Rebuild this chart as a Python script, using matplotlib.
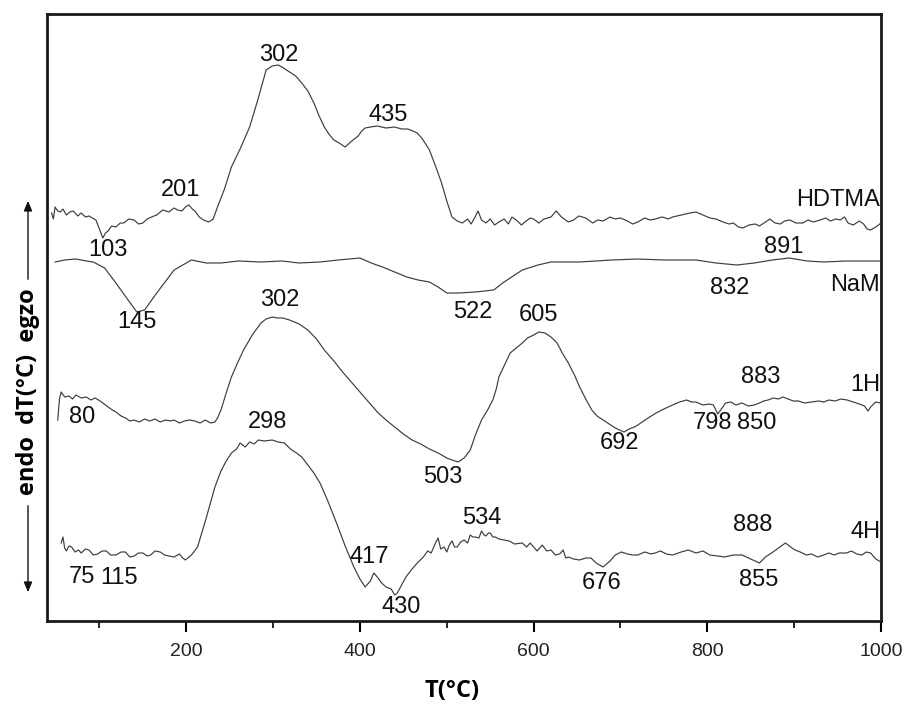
import matplotlib
matplotlib.use("Agg")
import matplotlib.pyplot as plt
from matplotlib.patches import FancyArrowPatch
from matplotlib.ticker import MultipleLocator

# ---------------- data (temperature in °C, dT in arbitrary units) ----------------
hdtma_T = [45, 47, 49, 52, 55, 58, 62, 66, 70, 75, 79, 84, 88, 92, 96, 100, 104, 107, 110, 114,
           119, 124, 128, 134, 140, 145, 150, 155, 160, 166, 173, 180, 186, 190, 195, 199, 203,
           207, 210, 215, 220, 226, 231, 236, 244, 252, 262, 273, 282, 292, 299, 306, 312, 319,
           326, 333, 340, 347, 353, 359, 365, 370, 376, 383, 388, 392, 398, 402, 406, 412, 420,
           430, 440, 448, 455, 461, 466, 472, 480, 487, 494, 500, 506, 512, 518, 524, 528, 532,
           536, 540, 545, 550, 555, 560, 566, 571, 575, 580, 586, 590, 596, 600, 606, 612, 620,
           626, 632, 640, 646, 652, 660, 668, 674, 680, 688, 694, 700, 708, 714, 720, 728, 734,
           740, 748, 755, 760, 770, 780, 787, 795, 803, 810, 818, 825, 830, 836, 841, 848, 855,
           860, 867, 872, 878, 884, 889, 895, 902, 910, 916, 922, 930, 936, 942, 948, 953, 958,
           962, 968, 975, 980, 984, 988, 994, 1000]
hdtma_y = [408, 402, 414, 410, 409, 412, 406, 409, 410, 405, 408, 404, 405, 403, 401, 392, 383, 388,
           390, 395, 394, 398, 398, 402, 401, 397, 398, 402, 404, 406, 411, 409, 413, 411, 410,
           414, 416, 412, 410, 404, 401, 399, 402, 414, 432, 454, 472, 494, 520, 551, 555, 556,
           553, 549, 545, 538, 530, 518, 505, 494, 486, 481, 478, 474, 478, 481, 485, 490, 493,
           494, 495, 493, 494, 492, 492, 490, 488, 482, 471, 455, 438, 420, 404, 400, 398, 402,
           397, 403, 410, 401, 398, 402, 396, 399, 402, 397, 404, 401, 396, 399, 403, 402, 398,
           402, 404, 410, 404, 399, 401, 405, 403, 398, 401, 400, 404, 402, 403, 400, 397, 399,
           403, 401, 402, 404, 402, 404, 406, 408, 409, 406, 403, 402, 399, 397, 398, 394, 393,
           396, 397, 395, 399, 402, 398, 397, 400, 401, 398, 398, 401, 399, 401, 403, 400, 402,
           401, 404, 398, 396, 400, 397, 392, 391, 394, 398]

nam_T = [49, 60, 73, 85, 93, 106, 119, 133, 143, 152, 166, 186, 206, 223, 240, 260, 286, 310,
         330, 354, 375, 400, 413, 426, 440, 454, 467, 480, 490, 500, 514, 533, 554, 566, 587,
         605, 620, 653, 690, 720, 750, 787, 810, 834, 854, 875, 894, 915, 934, 960, 1000]
nam_y = [359, 361, 362, 360, 359, 353, 338, 321, 309, 311, 328, 351, 361, 358, 358, 360, 359, 360,
         358, 359, 361, 363, 358, 354, 349, 344, 341, 339, 334, 328, 328, 329, 331, 339, 351,
         356, 359, 359, 361, 362, 361, 361, 358, 356, 358, 361, 363, 360, 359, 360, 360]

h1_T = [52, 54, 56, 60, 65, 69, 73, 79, 85, 90, 95, 99, 104, 110, 115, 119, 125, 130, 135, 140,
        146, 152, 158, 164, 170, 176, 182, 186, 192, 198, 204, 210, 216, 222, 228, 233, 236,
        240, 246, 252, 259, 266, 276, 286, 292, 299, 305, 311, 319, 330, 340, 350, 359, 370,
        380, 390, 400, 410, 420, 430, 440, 450, 460, 470, 480, 490, 500, 506, 513, 520, 527,
        533, 540, 547, 553, 557, 560, 567, 573, 580, 587, 593, 600, 606, 613, 620, 627, 633,
        640, 647, 653, 660, 667, 673, 680, 687, 694, 699, 704, 710, 716, 720, 730, 741, 750,
        760, 768, 776, 782, 787, 795, 802, 807, 812, 817, 821, 827, 833, 840, 847, 854, 860,
        865, 870, 876, 882, 887, 893, 899, 905, 912, 920, 928, 934, 940, 947, 954, 961, 968,
        975, 981, 985, 988, 994, 1000]
h1_y = [201, 222, 229, 224, 225, 222, 226, 223, 224, 221, 223, 221, 218, 214, 211, 209, 205, 203,
        200, 201, 199, 202, 200, 202, 199, 201, 200, 201, 198, 200, 201, 200, 198, 201, 198,
        199, 203, 211, 228, 244, 258, 271, 286, 298, 302, 304, 303, 303, 301, 297, 291, 282,
        271, 260, 249, 239, 229, 219, 209, 201, 194, 187, 181, 177, 172, 168, 163, 161, 159,
        163, 171, 186, 201, 211, 221, 232, 244, 257, 268, 273, 278, 283, 286, 289, 288, 284,
        278, 268, 258, 246, 234, 222, 211, 205, 201, 197, 193, 191, 189, 192, 194, 196, 202,
        208, 212, 216, 219, 221, 219, 219, 216, 217, 216, 207, 213, 218, 219, 216, 218, 215,
        216, 218, 220, 221, 223, 222, 224, 222, 220, 220, 218, 219, 220, 219, 221, 220, 222,
        221, 219, 217, 215, 210, 214, 219, 218]

h4_T = [56, 58, 60, 62, 65, 68, 72, 76, 79, 84, 88, 93, 98, 103, 108, 113, 119, 125, 130, 135,
        140, 145, 150, 155, 159, 164, 170, 175, 180, 186, 192, 196, 199, 206, 213, 222, 233,
        240, 246, 252, 258, 262, 268, 273, 278, 283, 290, 299, 306, 313, 320, 327, 333, 340,
        347, 354, 363, 373, 383, 393, 400, 406, 412, 416, 420, 425, 430, 436, 440, 443, 448,
        453, 460, 466, 473, 478, 482, 487, 490, 493, 497, 500, 503, 506, 509, 512, 516, 520,
        524, 527, 530, 533, 537, 540, 543, 545, 548, 550, 553, 556, 560, 566, 572, 578, 587,
        592, 596, 600, 604, 610, 615, 620, 625, 630, 634, 637, 640, 646, 653, 660, 666, 672,
        680, 688, 694, 701, 708, 714, 720, 728, 735, 740, 746, 753, 760, 770, 778, 787, 795,
        803, 812, 820, 830, 840, 850, 860, 867, 874, 882, 890, 896, 901, 907, 914, 920, 927,
        934, 940, 946, 952, 960, 966, 972, 978, 983, 988, 994, 1000]
h4_y = [78, 84, 73, 70, 75, 74, 69, 71, 68, 72, 71, 66, 67, 70, 70, 66, 66, 69, 69, 64,
        65, 68, 68, 65, 66, 70, 69, 66, 65, 64, 67, 63, 61, 66, 74, 100, 134,
        150, 160, 168, 172, 178, 174, 179, 177, 181, 180, 181, 179, 178, 172, 168, 164, 156,
        148, 138, 120, 98, 75, 54, 42, 34, 40, 48, 44, 38, 34, 32, 26, 28, 36,
        44, 52, 58, 64, 70, 68, 78, 83, 72, 74, 69, 76, 80, 74, 74, 79, 81,
        78, 86, 84, 84, 83, 90, 86, 85, 88, 88, 84, 84, 82, 81, 80, 77, 78,
        74, 78, 74, 70, 76, 70, 71, 66, 67, 71, 63, 64, 62, 61, 63, 63, 58,
        54, 60, 66, 69, 67, 66, 66, 69, 67, 68, 70, 67, 66, 69, 71, 68, 70,
        66, 65, 64, 66, 66, 62, 58, 64, 68, 73, 78, 74, 71, 69, 66, 67, 64,
        66, 68, 66, 68, 68, 70, 67, 66, 69, 68, 62, 59]

series_names = ["HDTMA", "NaM", "1H", "4H"]

# peak annotations: (text, T, y)
peak_labels = [
    ("302", 306, 566), ("435", 433, 506), ("201", 193, 431), ("103", 110, 371),
    ("891", 888, 374), ("145", 143, 299), ("522", 530, 309), ("832", 826, 333),
    ("302", 308, 321), ("605", 606, 306), ("883", 861, 244), ("80", 80, 204),
    ("503", 495, 144), ("692", 699, 178), ("798", 806, 198), ("850", 857, 198),
    ("298", 294, 199), ("534", 540, 103), ("888", 852, 96), ("417", 411, 64),
    ("75", 80, 44), ("115", 123, 43), ("676", 678, 38), ("855", 859, 41),
    ("430", 447, 14),
]
# series name labels: (text, y)
name_labels = [("HDTMA", 421), ("NaM", 336), ("1H", 236), ("4H", 89)]

# ---------------- figure ----------------
fig = plt.figure(figsize=(9.06, 7.09), dpi=100)
ax = fig.add_axes([47.3 / 906, 88 / 709, (881 - 47.3) / 906, (621 - 14) / 709])

line_kw = dict(color="#3c3c3c", lw=0.85)
ax.plot(hdtma_T, hdtma_y, **line_kw)
ax.plot(nam_T, nam_y, **line_kw)
ax.plot(h1_T, h1_y, **line_kw)
ax.plot(h4_T, h4_y, **line_kw)

ax.set_xlim(40, 1000)
ax.set_ylim(0, 607)
ax.set_yticks([])
ax.xaxis.set_major_locator(MultipleLocator(200))
ax.xaxis.set_minor_locator(MultipleLocator(100))
ax.tick_params(axis="x", which="major", direction="out", length=8, width=1.5,
               labelsize=14, pad=8, top=False, labelcolor="#222222")
ax.tick_params(axis="x", which="minor", direction="out", length=5, width=1.2, top=False)
for lab in ax.get_xticklabels():
    lab.set_family(["Liberation Sans", "DejaVu Sans"])
for s in ax.spines.values():
    s.set_linewidth(2.0)
    s.set_color("#1a1a1a")

lab_font = dict(family=["Liberation Sans", "DejaVu Sans"], fontsize=17, color="#111111",
                ha="center", va="center")
for txt, t, y in peak_labels:
    ax.text(t, y, txt, **lab_font)
for txt, y in name_labels:
    ax.text(999, y, txt, family=["Liberation Sans", "DejaVu Sans"], fontsize=17,
            color="#111111", ha="right", va="center")

# axis labels
fig.text(452 / 906, 1 - 691 / 709, "T(°C)", ha="center", va="center",
         fontsize=17, fontweight="bold", family=["Open Sans", "DejaVu Sans"])
fig.text(28 / 906, 1 - 392 / 709, "endo  dT(°C)  egzo", rotation=90, ha="center",
         va="center", fontsize=17, fontweight="bold", family=["Open Sans", "DejaVu Sans"])
fig.add_artist(FancyArrowPatch(
    (28 / 906, 1 - 282 / 709), (28 / 906, 1 - 198 / 709), transform=fig.transFigure,
    arrowstyle="-|>,head_length=6,head_width=2.5", lw=1.0, color="#111111"))
fig.add_artist(FancyArrowPatch(
    (28 / 906, 1 - 503 / 709), (28 / 906, 1 - 595 / 709), transform=fig.transFigure,
    arrowstyle="-|>,head_length=6,head_width=2.5", lw=1.0, color="#111111"))

fig.savefig("out.png", dpi=100)
